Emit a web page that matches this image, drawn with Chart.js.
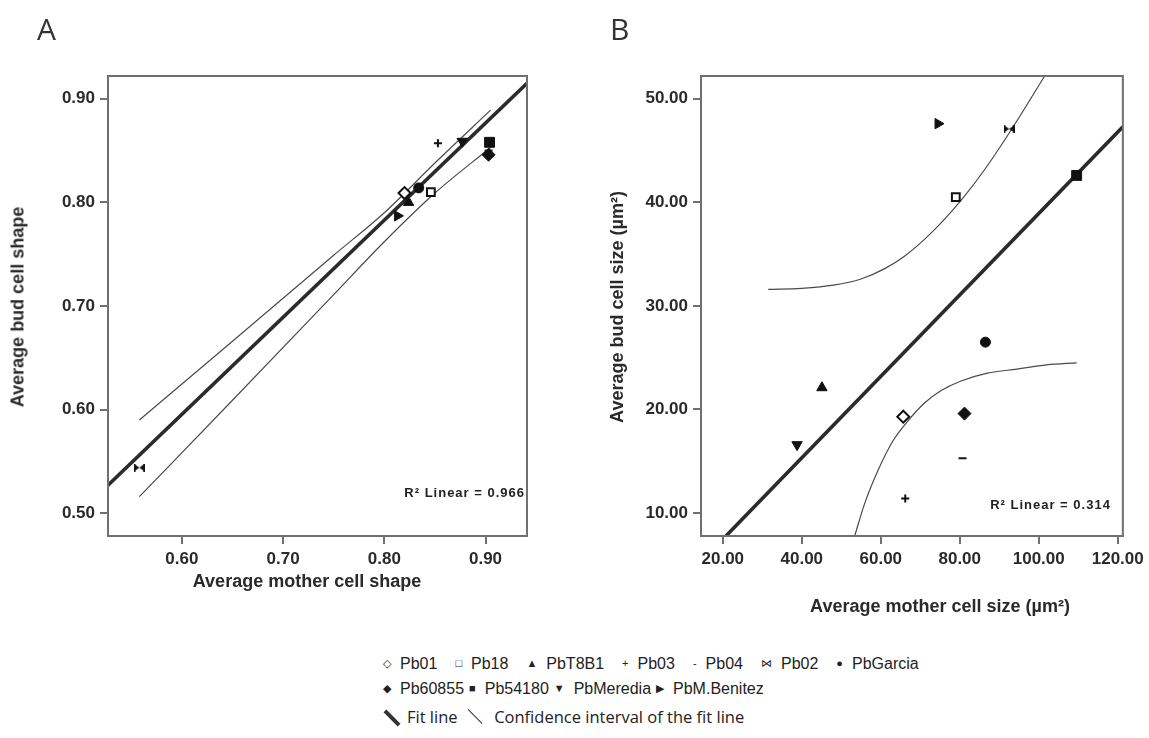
<!DOCTYPE html>
<html>
<head>
<meta charset="utf-8">
<script src="https://cdn.jsdelivr.net/npm/chart.js@4.4.1/dist/chart.umd.min.js"></script>
<style>
  body { margin: 0; background: #fff; }
  #wrap { position: relative; width: 1149px; height: 738px; overflow: hidden; background: #fff;
          font-family: "Liberation Sans", Arial, sans-serif; color: #222; }
  canvas { position: absolute; top: 0; }
  #cA { left: 0; }
  #cB { left: 580px; }
  .panel { position: absolute; top: 8px; font-family: "Open Sans", sans-serif; font-size: 30px; color: #333; }
  .title { position: absolute; font-weight: bold; font-size: 18px; white-space: nowrap;
           transform: translate(-50%, -50%); color: #2a2a2a; }
  .vt { transform: translate(-50%, -50%) rotate(-90deg); }
  .leg { position: absolute; left: 383px; font-size: 16px; white-space: nowrap; color: #222; }
  .sym { font-size: 11px; margin-right: 9px; position: relative; top: -2px; }
  #leg1 .item { margin-right: 18px; }
  #leg2 .item { margin-right: 5px; }
  .leg3 { font-family: "Open Sans", sans-serif; font-size: 16.5px; }
  .bar { display: inline-block; width: 19px; height: 14px; position: relative; margin-right: 5px; vertical-align: -1px; }
  .bar i { position: absolute; left: -1px; top: 6px; width: 20px; background: #333; transform: rotate(45deg); }
</style>
</head>
<body>
<div id="wrap">
  <canvas id="cA" width="580" height="620"></canvas>
  <canvas id="cB" width="569" height="620"></canvas>
  <div class="panel" style="left:37px">A</div>
  <div class="panel" style="left:610px">B</div>
  <div class="title" style="left:307px;top:581px">Average mother cell shape</div>
  <div class="title vt" style="left:18px;top:307px">Average bud cell shape</div>
  <div class="title" style="left:940px;top:606px">Average mother cell size (µm²)</div>
  <div class="title vt" style="left:617px;top:307px">Average bud cell size (µm²)</div>
  <div class="leg" id="leg1" style="top:655px"></div>
  <div class="leg" id="leg2" style="top:680px"></div>
  <div class="leg leg3" style="top:705px">
    <span class="bar"><i style="height:4px"></i></span>Fit line
    <span class="bar" style="margin-left:4px"><i style="height:1.3px"></i></span> Confidence interval of the fit line
  </div>
</div>
<script>
// strains, in legend order
const strains = ["Pb01", "Pb18", "PbT8B1", "Pb03", "Pb04", "Pb02", "PbGarcia",
                 "Pb60855", "Pb54180", "PbMeredia", "PbM.Benitez"];

// panel A: shape
const motherShape = [0.820, 0.846, 0.824, 0.853, 0.903, 0.558, 0.834, 0.903, 0.904, 0.877, 0.813];
const budShape    = [0.809, 0.810, 0.800, 0.857, 0.850, 0.544, 0.814, 0.846, 0.858, 0.859, 0.787];

// panel B: size (µm²)
const motherSize = [65.7, 79.0, 45.1, 66.2, 80.7, 92.5, 86.5, 81.2, 109.6, 38.8, 74.5];
const budSize    = [19.3, 40.5, 22.1, 11.4, 15.3, 47.1, 26.5, 19.6, 42.6, 16.6, 47.6];

// fit lines and confidence bands
const fitAX = [0.527, 0.941];
const fitAY = [0.527, 0.915];
const ciUpAX = [0.558, 0.65, 0.75, 0.80, 0.85, 0.905];
const ciUpAY = [0.590, 0.666, 0.749, 0.790, 0.838, 0.889];
const ciLoAX = [0.558, 0.65, 0.75, 0.80, 0.85, 0.905];
const ciLoAY = [0.516, 0.609, 0.711, 0.762, 0.809, 0.853];

const fitBX = [20.8, 121.3];
const fitBY = [7.78, 47.3];
const ciUpBX = [31.5, 40, 48, 55, 61, 66, 71, 76, 81, 86, 91, 96, 101.5];
const ciUpBY = [31.6, 31.7, 32.0, 32.6, 33.6, 34.8, 36.4, 38.3, 40.5, 43.0, 45.8, 48.8, 52.2];
const ciLoBX = [53.4, 56, 59.4, 63, 66.9, 71, 75.2, 80, 87, 94.5, 102, 109.6];
const ciLoBY = [7.8, 11.0, 14.2, 16.9, 18.9, 20.6, 21.8, 22.7, 23.5, 23.9, 24.3, 24.5];

// axes
const xRangeA = [0.527, 0.941], yRangeA = [0.478, 0.922];
const xRangeB = [14.48, 121.3], yRangeB = [7.78, 52.2];
const xTicksA = [0.6, 0.7, 0.8, 0.9];
const yTicksA = [0.5, 0.6, 0.7, 0.8, 0.9];
const xTicksB = [20, 40, 60, 80, 100, 120];
const yTicksB = [10, 20, 30, 40, 50];
const r2A = "R² Linear = 0.966";
const r2B = "R² Linear = 0.314";

// bowtie marker for Pb02
function makeBowtie() {
  const c = document.createElement("canvas");
  c.width = 11; c.height = 8;
  const g = c.getContext("2d");
  g.fillStyle = "#111";
  g.beginPath();
  g.moveTo(0, 0); g.lineTo(5.5, 4); g.lineTo(0, 8); g.closePath();
  g.moveTo(11, 0); g.lineTo(5.5, 4); g.lineTo(11, 8); g.closePath();
  g.fill();
  g.fillRect(0, 0, 1.6, 8); g.fillRect(9.4, 0, 1.6, 8);
  return c;
}
const bowtie = makeBowtie();

const markerStyles = [
  { pointStyle: "rectRot", radius: 6, bg: "#fff", bw: 2 },
  { pointStyle: "rect", radius: 5.5, bg: "#fff", bw: 2 },
  { pointStyle: "triangle", radius: 6, bg: "#111", bw: 1 },
  { pointStyle: "cross", radius: 4, bg: "#111", bw: 2 },
  { pointStyle: "line", radius: 4, bg: "#111", bw: 2 },
  { pointStyle: bowtie, radius: 5, bg: "#111", bw: 1 },
  { pointStyle: "circle", radius: 5, bg: "#111", bw: 1 },
  { pointStyle: "rectRot", radius: 6.5, bg: "#111", bw: 1 },
  { pointStyle: "rect", radius: 7, bg: "#111", bw: 1 },
  { pointStyle: "triangle", radius: 6, bg: "#111", bw: 1, rotation: 180 },
  { pointStyle: "triangle", radius: 6, bg: "#111", bw: 1, rotation: 90 },
];
const legendGlyphs = ["◇", "□", "▲", "+", "-", "⋈", "●", "◆", "■", "▼", "▶"];

function pts(xs, ys) { return xs.map((x, i) => ({ x, y: ys[i] })); }

const FONT = "'Liberation Sans', Arial, sans-serif";
const AXIS = "#707070";

const framePlugin = {
  id: "frame",
  afterDraw(chart, args, opts) {
    const { ctx, chartArea: a } = chart;
    ctx.save();
    ctx.strokeStyle = AXIS;
    ctx.lineWidth = 2;
    ctx.strokeRect(a.left, a.top, a.right - a.left, a.bottom - a.top);
    ctx.fillStyle = "#222";
    ctx.font = "bold 13px " + FONT;
    ctx.letterSpacing = "1px";
    ctx.textAlign = "right";
    ctx.textBaseline = "middle";
    ctx.fillText(opts.note, a.right - opts.dx, a.bottom - opts.dy);
    ctx.restore();
  }
};

function lineSet(data, width, color, smooth) {
  return {
    type: "scatter", data, showLine: true, pointRadius: 0,
    borderColor: color, borderWidth: width, fill: false,
    cubicInterpolationMode: smooth ? "monotone" : "default",
    order: 20
  };
}

function scaleOpts(range, ticks, size) {
  return {
    type: "linear", min: range[0], max: range[1],
    afterBuildTicks: s => { s.ticks = ticks.map(v => ({ value: v })); },
    afterFit: s => { if (size.w) s.width = size.w; if (size.h) s.height = size.h; },
    border: { display: true, color: AXIS, width: 2 },
    grid: { display: true, drawOnChartArea: false, drawTicks: true, tickLength: 8, color: AXIS, lineWidth: 2 },
    ticks: { font: { family: FONT, size: 17, weight: "bold" }, color: "#2a2a2a", padding: 5,
             callback: v => Number(v).toFixed(2) }
  };
}

function makePanel(id, xs, ys, fitX, fitY, upX, upY, loX, loY, cfg) {
  const datasets = strains.map((name, i) => {
    const m = markerStyles[i];
    return {
      label: name, data: [{ x: xs[i], y: ys[i] }],
      pointStyle: m.pointStyle, pointRadius: m.radius, pointRotation: m.rotation || 0,
      pointBackgroundColor: m.bg, pointBorderColor: "#111", pointBorderWidth: m.bw,
      order: 1
    };
  });
  datasets.push(lineSet(pts(upX, upY), 1.2, "#4a4a4a", true));
  datasets.push(lineSet(pts(loX, loY), 1.2, "#4a4a4a", true));
  datasets.push(lineSet(pts(fitX, fitY), 3.6, "#2b2b2b", false));

  return new Chart(document.getElementById(id), {
    type: "scatter",
    data: { datasets },
    plugins: [framePlugin],
    options: {
      responsive: false, animation: false,
      layout: { padding: cfg.padding },
      plugins: {
        legend: { display: false }, tooltip: { enabled: false },
        frame: { note: cfg.note, dx: cfg.noteDx, dy: cfg.noteDy }
      },
      scales: {
        x: scaleOpts(cfg.xRange, cfg.xTicks, { h: 84 }),
        y: scaleOpts(cfg.yRange, cfg.yTicks, { w: cfg.yw })
      }
    }
  });
}

makePanel("cA", motherShape, budShape, fitAX, fitAY, ciUpAX, ciUpAY, ciLoAX, ciLoAY, {
  padding: { left: 0, right: 53, top: 76, bottom: 0 }, yw: 108,
  xRange: xRangeA, yRange: yRangeA, xTicks: xTicksA, yTicks: yTicksA,
  note: r2A, noteDx: 2, noteDy: 43
});
makePanel("cB", motherSize, budSize, fitBX, fitBY, ciUpBX, ciUpBY, ciLoBX, ciLoBY, {
  padding: { left: 0, right: 23, top: 76, bottom: 0 }, yw: 121,
  xRange: xRangeB, yRange: yRangeB, xTicks: xTicksB, yTicks: yTicksB,
  note: r2B, noteDx: 12, noteDy: 31
});

// HTML legend rows
function legendRow(el, from, to) {
  el.innerHTML = strains.slice(from, to).map((s, k) =>
    `<span class="item"><span class="sym">${legendGlyphs[from + k]}</span>${s}</span>`).join("");
}
legendRow(document.getElementById("leg1"), 0, 7);
legendRow(document.getElementById("leg2"), 7, 11);
</script>
</body>
</html>
